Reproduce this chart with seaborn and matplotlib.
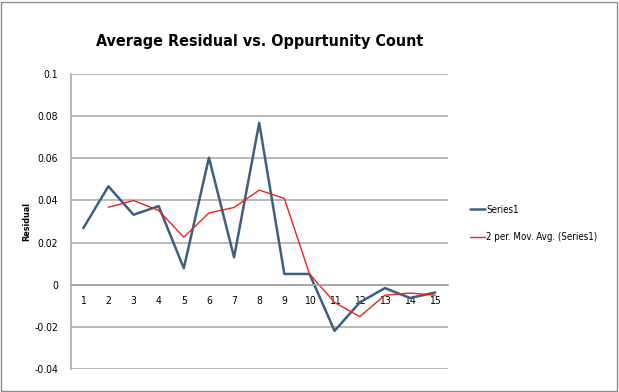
import numpy as np
import pandas as pd
import matplotlib
matplotlib.use('Agg')
import matplotlib.pyplot as plt
from matplotlib.patches import Rectangle
import seaborn as sns

sns.set_theme(style='white')
plt.rcParams['font.family'] = ['DejaVu Sans']
plt.rcParams['font.stretch'] = 'condensed'
plt.rcParams['text.color'] = 'black'
plt.rcParams['xtick.color'] = 'black'
plt.rcParams['ytick.color'] = 'black'
plt.rcParams['axes.labelcolor'] = 'black'

# values
counts = list(range(1, 16))
residual = [0.0268, 0.0467, 0.0332, 0.0373, 0.0078, 0.0603, 0.0130, 0.0768,
            0.0051, 0.0051, -0.0219, -0.0084, -0.0016, -0.0063, -0.0037]
y_ticks = [-0.04, -0.02, 0, 0.02, 0.04, 0.06, 0.08, 0.1]
y_ticklabels = ['-0.04', '-0.02', '0', '0.02', '0.04', '0.06', '0.08', '0.1']

df = pd.DataFrame({'count': counts, 'residual': residual})
# Excel style 2 period moving average trendline
df['mov_avg'] = df['residual'].rolling(2).mean()

fig = plt.figure(figsize=(6.19, 3.92), dpi=100)
ax = fig.add_axes([0.1142, 0.0587, 0.6091, 0.7525])

grid_c = '#a6a6a6'
for t in y_ticks:
    ax.axhline(t, color=grid_c, lw=1.1, zorder=0)

sns.lineplot(data=df, x='count', y='residual', ax=ax, color='#3d5f82',
             lw=1.8, label='Series1', legend=False)
sns.lineplot(data=df.dropna(), x='count', y='mov_avg', ax=ax, color='#e8231f',
             lw=1.0, label='2 per. Mov. Avg. (Series1)', legend=False)

for s in ['top', 'right']:
    ax.spines[s].set_visible(False)
ax.spines['bottom'].set_position(('data', 0))
ax.spines['bottom'].set_color(grid_c)
ax.spines['left'].set_color(grid_c)
ax.spines['left'].set_linewidth(1.1)

ax.set_xlim(0.5, 15.5)
ax.set_ylim(-0.04, 0.1)
ax.set_xticks(counts)
ax.set_xticklabels([str(c) for c in counts], fontsize=7.5)
ax.set_yticks(y_ticks)
ax.set_yticklabels(y_ticklabels, fontsize=7.5)
ax.tick_params(axis='x', length=0, pad=8)
ax.tick_params(axis='y', length=0, pad=9)

ax.set_xlabel('')
ax.set_ylabel('Residual', fontsize=6.5, fontweight='bold')
ax.yaxis.set_label_coords(-0.105, 0.5)

fig.suptitle('Average Residual vs. Oppurtunity Count', fontsize=11.5,
             fontweight='bold', x=0.42, y=0.895, va='center')

handles, labels = ax.get_legend_handles_labels()
fig.legend(handles, labels, loc='center left', bbox_to_anchor=(0.745, 0.43),
           frameon=False, fontsize=7, handlelength=1.6, handletextpad=0.1,
           labelspacing=1.8)

fig.patches.append(Rectangle((0.002, 0.003), 0.994, 0.992, transform=fig.transFigure,
                             fill=False, edgecolor='#8c8c8c', lw=1.0))

fig.savefig('out.png', dpi=100)
